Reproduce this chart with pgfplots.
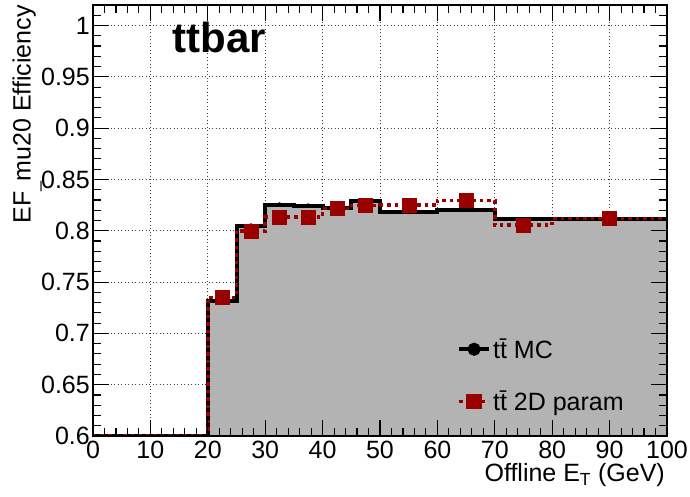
\documentclass[border=0pt]{standalone}
\usepackage{fontspec}
\setmainfont{Liberation Sans}
\usepackage{pgfplots}
\pgfplotsset{compat=1.18}
\definecolor{rootred}{RGB}{153,0,0}
\definecolor{histgray}{RGB}{179,179,179}
\newcommand\labfont{\fontsize{25}{30}\selectfont}

\begin{document}
\begin{tikzpicture}
\pgfplotsset{
  frame/.style={
    scale only axis, width=574pt, height=431pt,
    xmin=0, xmax=100, ymin=0.6, ymax=1.02,
    xtick={0,10,...,100},
    ytick={0.6,0.65,0.7,0.75,0.8,0.85,0.9,0.95,1.0},
  },
}
% dotted grid, kept underneath the filled histogram
\begin{axis}[frame,
  axis line style={draw=none}, major tick length=0pt,
  xticklabels={}, yticklabels={},
  grid=major,
  grid style={black!75, line width=0.9pt, dash pattern=on 1pt off 2.5pt}]
\addplot[draw=none] coordinates {(0,0.6)};
\end{axis}

\begin{axis}[frame,
  axis on top,
  axis line style={black, line width=1.2pt},
  tick align=inside,
  minor xtick={0,2,...,100},
  minor ytick={0.61,0.62,0.63,0.64,0.66,0.67,0.68,0.69,0.71,0.72,0.73,0.74,
    0.76,0.77,0.78,0.79,0.81,0.82,0.83,0.84,0.86,0.87,0.88,0.89,
    0.91,0.92,0.93,0.94,0.96,0.97,0.98,0.99,1.01},
  major tick length=16pt, minor tick length=8pt,
  every tick/.style={black, line width=1.1pt},
  /pgf/number format/assume math mode=true,
  ticklabel style={font=\labfont},
  xticklabel style={inner sep=2pt, yshift=-3pt},
  yticklabel style={/pgf/number format/fixed, /pgf/number format/precision=2, inner sep=3pt},
  xlabel={Offline E\textsubscript{T} (GeV)},
  xlabel style={font=\labfont, at={(axis description cs:1,-0.1060)}, anchor=base east, inner sep=0pt, xshift=-2pt},
  ylabel={EF{\raisebox{-0.3em}{\fontsize{18}{18}\selectfont\_}}mu20 Efficiency},
  ylabel style={font=\labfont, at={(axis description cs:-0.115,1)}, anchor=east, inner sep=0pt},
  legend cell align=left,
  legend style={at={(axis cs:63.4,0.697)}, anchor=north west, draw=none, fill=none,
    font=\labfont, row sep=27pt, inner sep=0pt},
  legend image code/.code={
    \draw[mark repeat=2, mark phase=2] plot coordinates {(0pt,0pt)(15pt,0pt)(30pt,0pt)};
  },
]
% filled MC histogram
\addplot[const plot, fill=histgray, draw=none, forget plot] coordinates {
  (20,0.732) (25,0.805) (30,0.8255) (35,0.8245) (40,0.8226) (45,0.829)
  (50,0.8183) (60,0.8206) (70,0.8112) (80,0.8112) (100,0.8112)
} \closedcycle;
% MC outline
\addplot[const plot, black, line width=4pt, forget plot] coordinates {
  (0,0.6) (20,0.732) (25,0.805) (30,0.8255) (35,0.8245) (40,0.8226) (45,0.829)
  (50,0.8183) (60,0.8206) (70,0.8112) (80,0.8112) (100,0.8112)
};
\addplot[only marks, mark=*, mark size=2pt, black, forget plot] coordinates {
  (22.5,0.732) (27.5,0.805) (32.5,0.8255) (37.5,0.8245) (42.5,0.8226) (47.5,0.829)
  (55,0.8183) (65,0.8206) (75,0.8112) (90,0.8112)
};
% 2D parametrisation
\addplot[const plot, rootred, line width=3.5pt, dash pattern=on 3.5pt off 4pt, forget plot] coordinates {
  (0,0.6) (20,0.735) (25,0.800) (30,0.8134) (35,0.8134) (40,0.8216) (45,0.8248)
  (50,0.825) (60,0.8297) (70,0.8054) (80,0.8119) (100,0.8119)
};
\addplot[only marks, mark=square*, mark size=7pt, rootred, forget plot] coordinates {
  (22.5,0.735) (27.5,0.800) (32.5,0.8134) (37.5,0.8134) (42.5,0.8216) (47.5,0.8248)
  (55,0.825) (65,0.8297) (75,0.8054) (90,0.8119)
};
\addlegendimage{black, line width=4pt, mark=*, mark size=4.5pt, mark options={solid}}
\addlegendentry{t\={t} MC}
\addlegendimage{rootred, line width=3.5pt, dash pattern=on 3.5pt off 4pt, mark=square*, mark size=6pt, mark options={solid}}
\addlegendentry{t\={t} 2D param}
\node[anchor=base west, inner sep=0pt, font=\bfseries\fontsize{42}{50}\selectfont]
  at (axis description cs:0.139,0.889) {ttbar};
\end{axis}
\pgfresetboundingbox
\path (-93pt,-61pt) rectangle (597pt,436pt);
\end{tikzpicture}
\end{document}
